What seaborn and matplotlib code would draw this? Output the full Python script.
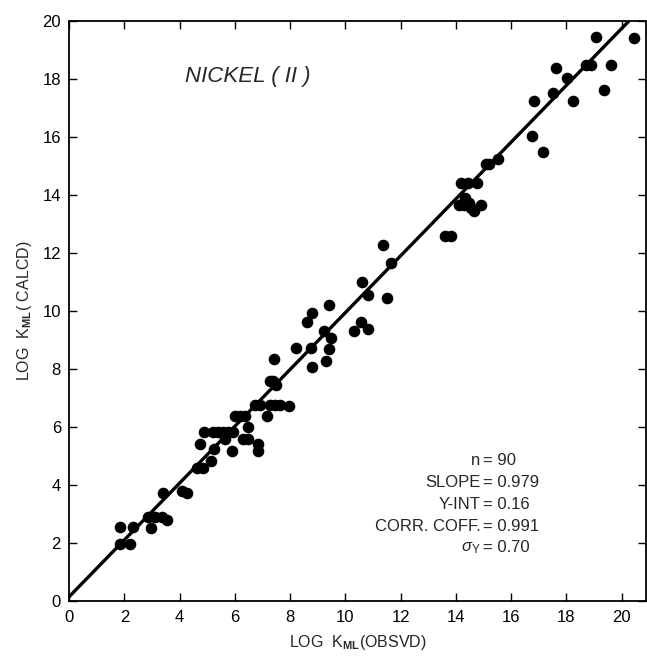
import numpy as np
import pandas as pd
import matplotlib
matplotlib.use('Agg')
from matplotlib import pyplot as plt
import seaborn as sns

# log K_ML observed vs calculated, Nickel(II)
obsvd = [1.84, 1.84, 2.2, 2.3, 2.96, 2.86, 3.1, 3.35, 3.55, 3.41,
         4.07, 4.25, 4.64, 4.83, 5.15, 4.73, 4.88, 5.24,
         5.21, 5.39, 5.57, 5.75, 5.94, 5.63, 5.91,
         6.0, 6.18, 6.36, 6.48, 6.3, 6.48, 6.84, 6.84, 6.72, 6.9,
         7.16, 7.26, 7.38, 7.5, 7.41, 7.26, 7.44, 7.62, 7.96,
         8.2, 8.8, 8.77, 8.61, 8.8, 9.31, 9.39, 9.21, 9.49, 9.4,
         10.3, 10.57, 10.81, 10.6, 10.81, 11.36, 11.66, 11.5,
         13.62, 13.83, 14.2, 14.45, 14.75,
         14.34, 14.46, 14.31, 14.12, 14.55, 14.67, 14.91,
         15.09, 15.2, 15.51, 16.75, 17.14, 16.83, 17.52, 17.62,
         18.01, 18.24, 18.7, 18.88, 19.38, 19.63, 19.07, 20.45]
calcd = [2.57, 1.98, 1.98, 2.57, 2.54, 2.92, 2.92, 2.89, 2.8, 3.72,
         3.81, 3.72, 4.61, 4.61, 4.84, 5.42, 5.85, 5.24,
         5.83, 5.83, 5.83, 5.83, 5.83, 5.59, 5.19,
         6.38, 6.38, 6.38, 6.0, 5.59, 5.59, 5.42, 5.19, 6.75, 6.75,
         6.38, 7.58, 7.58, 7.45, 8.34, 6.75, 6.75, 6.75, 6.72,
         8.73, 8.07, 8.73, 9.64, 9.95, 8.3, 8.69, 9.31, 9.08, 10.23,
         9.31, 9.63, 9.37, 10.99, 10.57, 12.28, 11.65, 10.44,
         12.58, 12.58, 14.42, 14.42, 14.42,
         13.9, 13.73, 13.67, 13.67, 13.55, 13.44, 13.67,
         15.08, 15.08, 15.26, 16.03, 15.49, 17.23, 17.53, 18.37,
         18.03, 17.23, 18.49, 18.49, 17.61, 18.49, 19.46, 19.43]

slope = 0.979
y_int = 0.16
stat_names = ['n', 'SLOPE', 'Y-INT', 'CORR. COFF.', r'$\sigma_{\mathregular{Y}}$']
stat_values = ['= 90', '= 0.979', '= 0.16', '= 0.991', '= 0.70']

df = pd.DataFrame({'obsvd': obsvd, 'calcd': calcd})

sns.set_style('ticks')
plt.rcParams['font.family'] = ['Liberation Sans', 'DejaVu Sans']
plt.rcParams['mathtext.fontset'] = 'custom'
plt.rcParams['mathtext.rm'] = 'Liberation Sans'
plt.rcParams['mathtext.it'] = 'Liberation Sans:italic'
plt.rcParams['mathtext.bf'] = 'Liberation Sans:bold'

fig = plt.figure(figsize=(6.47, 6.60), dpi=100)
ax = fig.add_axes([0.107, 0.089, 0.892, 0.879])

sns.scatterplot(data=df, x='obsvd', y='calcd', color='black', s=70,
                edgecolor='black', linewidth=0, ax=ax, zorder=3)

fit_x = np.array([0, 21])
sns.lineplot(x=fit_x, y=y_int + slope * fit_x, color='black', lw=2.4, ax=ax)

ax.set_xlim(0, 20.9)
ax.set_ylim(0, 20)
ax.set_xticks(range(0, 21, 2))
ax.set_yticks(range(0, 21, 2))
ax.tick_params(direction='in', top=True, right=True, length=6, width=1,
               labelsize=12, colors='black', pad=6)
for sp in ax.spines.values():
    sp.set_linewidth(1.3)
    sp.set_color('black')

ax.set_xlabel(r'LOG  K$_{\mathbf{ML}}$(OBSVD)', fontsize=11.5, labelpad=6)
ax.set_ylabel(r'LOG  K$_{\mathbf{ML}}$( CALCD)', fontsize=11.5, labelpad=6)

ax.text(4.2, 18.1, 'NICKEL ( II )', fontsize=16, style='italic',
        ha='left', va='center')

ys = [4.85, 4.09, 3.33, 2.57, 1.84]
for name, val, yy in zip(stat_names, stat_values, ys):
    ax.text(14.9, yy, name, fontsize=12, ha='right', va='center')
    ax.text(15.0, yy, val, fontsize=12, ha='left', va='center')

fig.savefig('out.png', dpi=100)
